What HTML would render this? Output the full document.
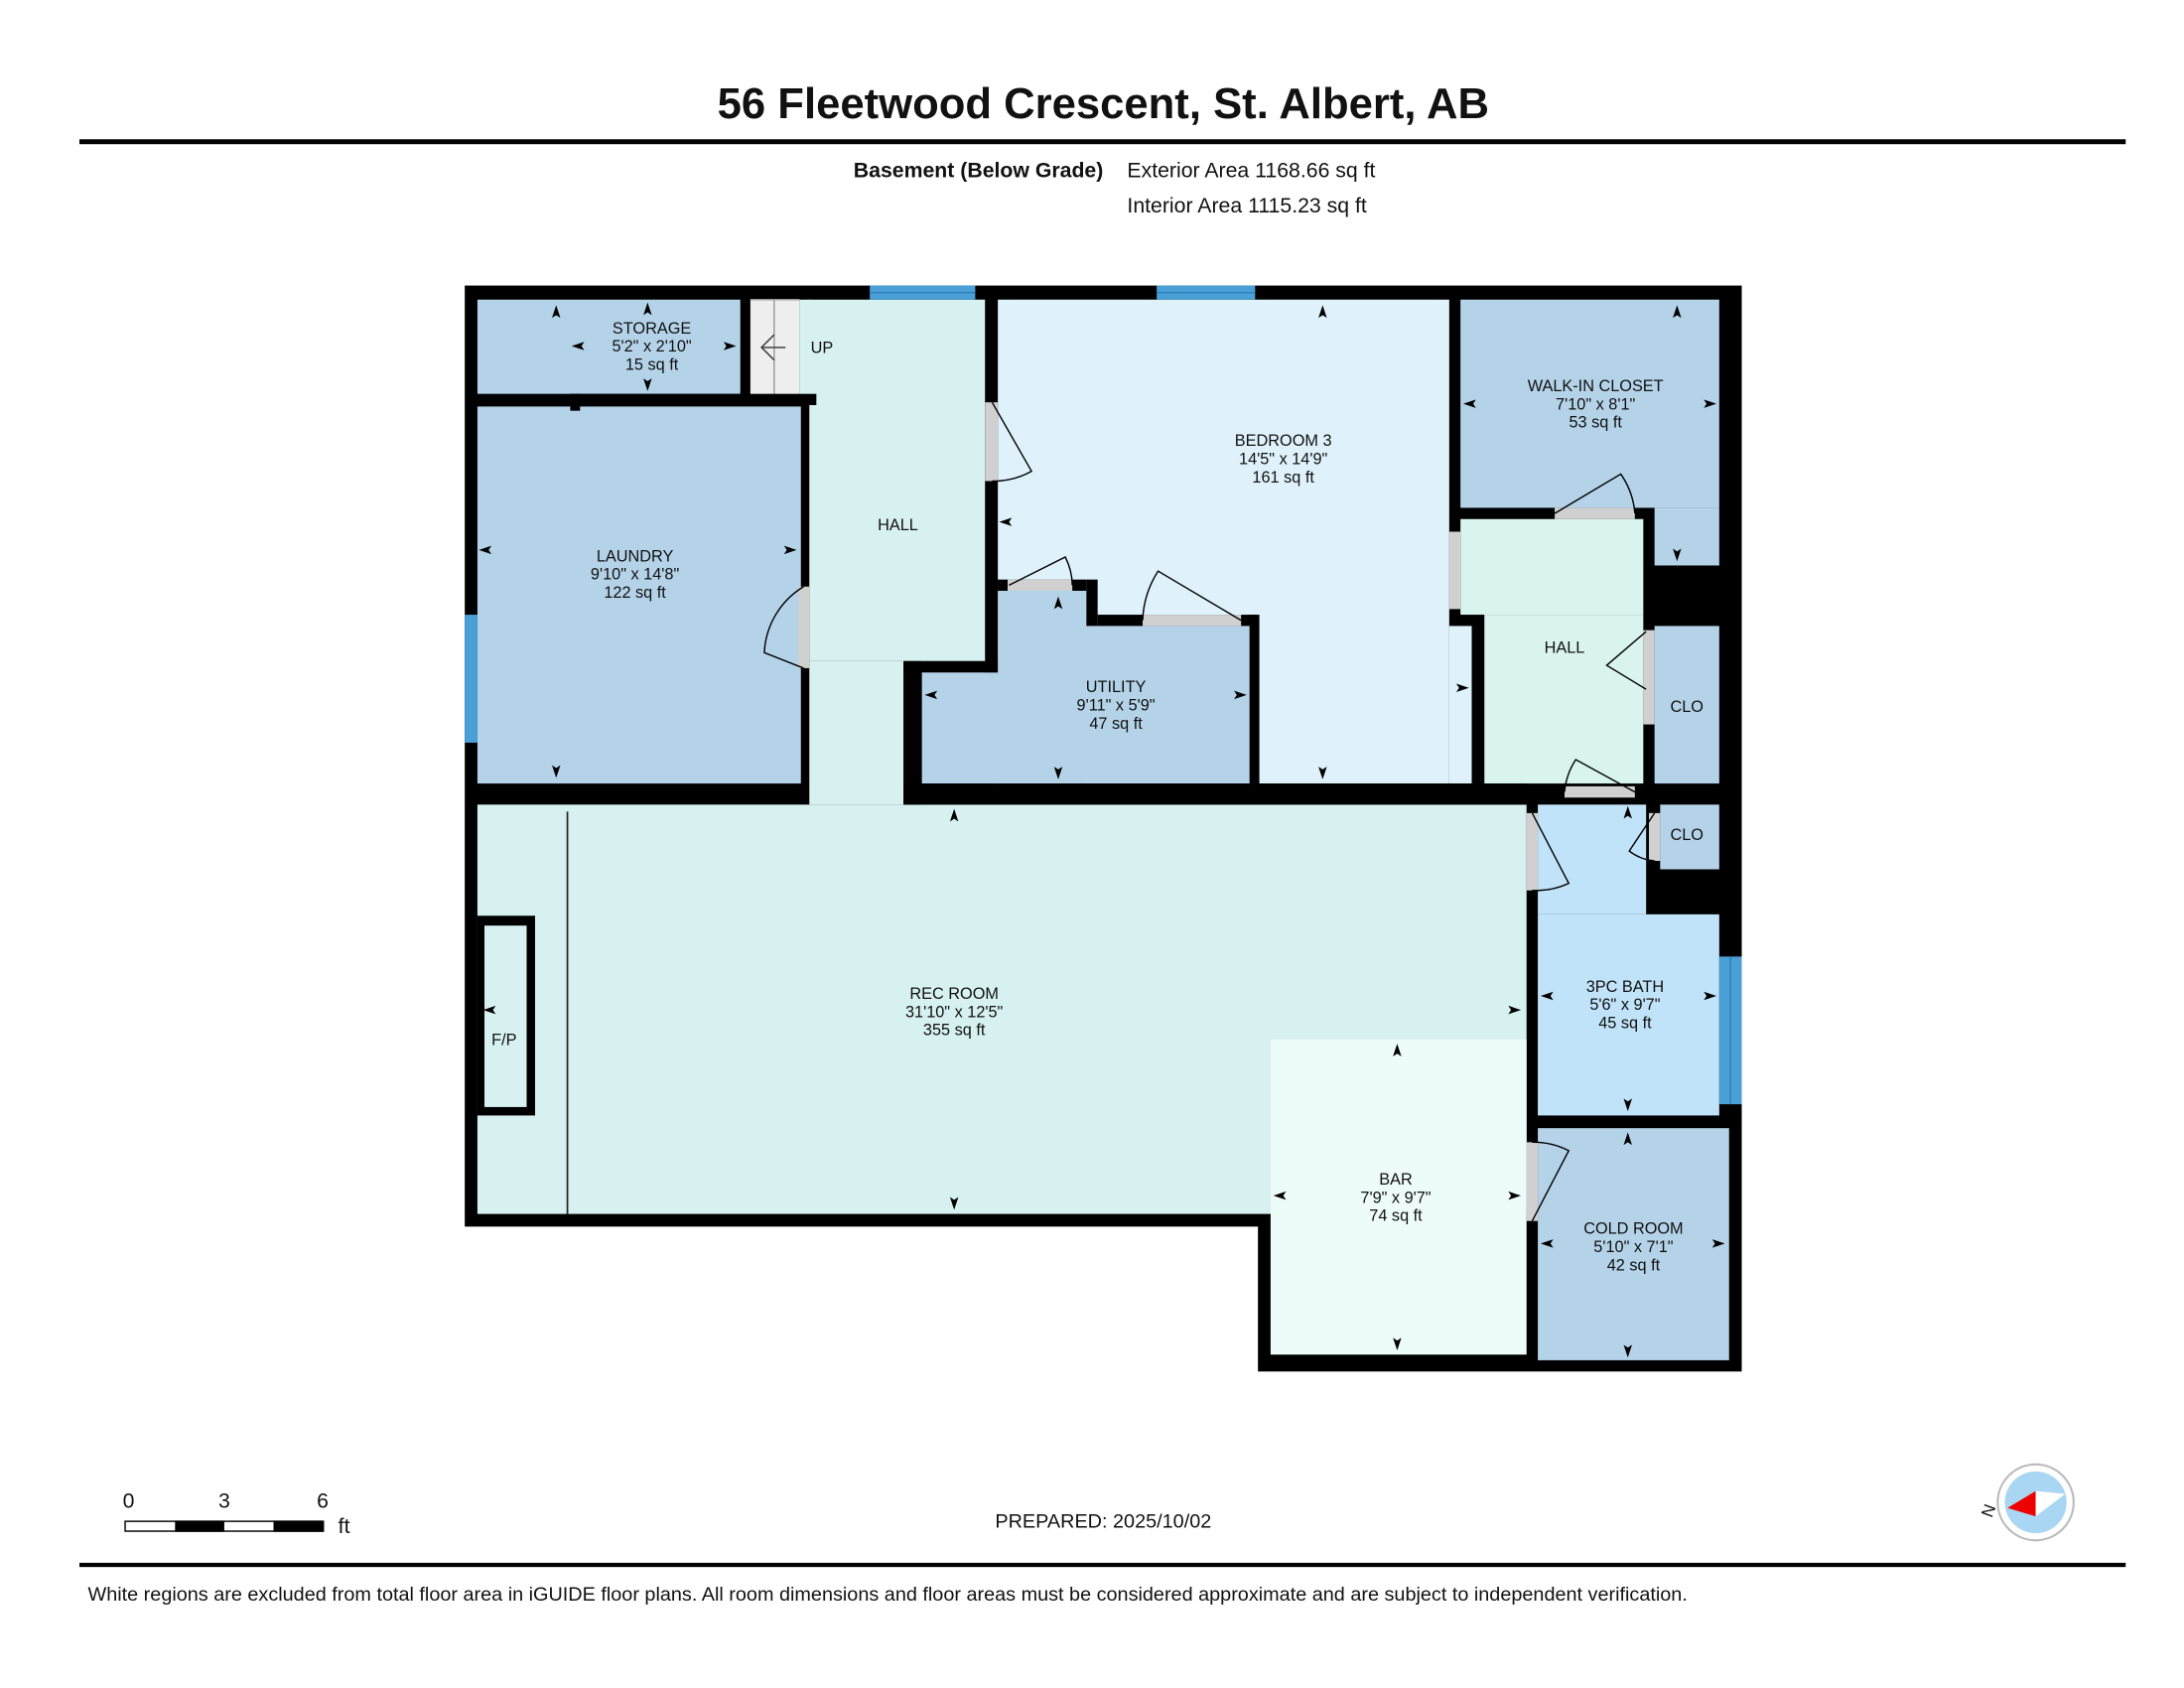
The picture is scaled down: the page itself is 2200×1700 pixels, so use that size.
<!DOCTYPE html>
<html><head><meta charset="utf-8"><style>
html,body{margin:0;padding:0;background:#fff;}
svg{display:block;}
text{font-family:"Liberation Sans",Arial,sans-serif;fill:#111;}
.l{font-size:11.5px;text-anchor:middle;}
</style></head><body>
<svg width="2200" height="1700" viewBox="0 0 1552 1200" xmlns="http://www.w3.org/2000/svg">
<rect width="1552" height="1200" fill="#fff"/>
<text x="784" y="84" font-size="30.8" font-weight="bold" text-anchor="middle">56 Fleetwood Crescent, St. Albert, AB</text>
<rect x="56" y="99" width="1455" height="3.5" fill="#000"/>
<text x="784" y="126" font-size="15" font-weight="bold" text-anchor="end">Basement (Below Grade)</text>
<text x="801" y="126" font-size="15">Exterior Area 1168.66 sq ft</text>
<text x="801" y="151" font-size="15">Interior Area 1115.23 sq ft</text>

<!-- outer black base -->
<rect x="330" y="203" width="908" height="669" fill="#000"/>
<rect x="894" y="860" width="344" height="115" fill="#000"/>

<!-- rooms -->
<rect x="339" y="213" width="187" height="67" fill="#b4d3e8"/>
<rect x="533" y="213" width="35" height="69" fill="#eee"/>
<rect x="568" y="213" width="8" height="69" fill="#d7f0f0"/>
<line x1="550" y1="213" x2="550" y2="282" stroke="#999" stroke-width="1"/>
<line x1="533" y1="213" x2="568" y2="213" stroke="#999"/>
<path d="M542 247 L558 247 M550 238 L541 247 L550 256" stroke="#333" fill="none" stroke-width="1"/>
<rect x="339" y="289" width="230" height="268" fill="#b4d3e8"/>
<rect x="575" y="213" width="125" height="257" fill="#d7f0f0"/>
<rect x="575" y="470" width="67" height="102" fill="#d7f0f0"/>
<rect x="709" y="213" width="321" height="344" fill="#dff2fb"/>
<rect x="1030" y="445" width="16" height="112" fill="#dff2fb"/>
<rect x="709" y="420" width="63" height="137" fill="#b4d3e8"/>
<rect x="655" y="478" width="54" height="79" fill="#b4d3e8"/>
<rect x="772" y="445" width="116" height="112" fill="#b4d3e8"/>
<rect x="709" y="412" width="63" height="8" fill="#000"/>
<rect x="772" y="412" width="8" height="33" fill="#000"/>
<rect x="780" y="437" width="113" height="8" fill="#000"/>
<rect x="888" y="437" width="7" height="120" fill="#000"/>
<rect x="1038" y="213" width="184" height="148" fill="#b4d3e8"/>
<rect x="1176" y="361" width="46" height="41" fill="#b4d3e8"/>
<rect x="1038" y="369" width="130" height="68" fill="#d9f3ee"/>
<rect x="1055" y="437" width="113" height="120" fill="#d9f3ee"/>
<rect x="1176" y="445" width="46" height="112" fill="#b4d3e8"/>
<rect x="1180" y="572" width="42" height="46" fill="#b4d3e8"/>
<rect x="1093" y="572" width="77" height="78" fill="#c1e3f9"/>
<rect x="1093" y="650" width="129" height="143" fill="#c1e3f9"/>
<rect x="1093" y="802" width="136" height="165" fill="#b4d3e8"/>
<rect x="339" y="572" width="746" height="291" fill="#d7f0f0"/>
<rect x="903" y="739" width="182" height="224" fill="#eefcf9"/>
<line x1="403" y1="577" x2="403" y2="863" stroke="#222" stroke-width="1.2"/>
<rect x="339" y="651" width="41" height="142" fill="#000"/>
<rect x="344" y="658" width="30" height="129" fill="#d7f0f0"/>
<!-- wall nubs -->
<rect x="405" y="280" width="175" height="8" fill="#000"/>
<rect x="405" y="280" width="7" height="12" fill="#000"/>
<rect x="526" y="213" width="7" height="69" fill="#000"/>
<rect x="700" y="213" width="9" height="265" fill="#000"/>
<rect x="642" y="470" width="67" height="8" fill="#000"/>
<rect x="642" y="470" width="13" height="102" fill="#000"/>
<rect x="642" y="557" width="443" height="15" fill="#000"/>

<!-- windows -->
<rect x="618" y="203" width="75" height="10" fill="#4a9fd6"/>
<line x1="618" y1="208" x2="693" y2="208" stroke="#2a7fb6" stroke-width="1"/>
<rect x="822" y="203" width="70" height="10" fill="#4a9fd6"/>
<line x1="822" y1="208" x2="892" y2="208" stroke="#2a7fb6" stroke-width="1"/>
<rect x="330" y="437" width="9" height="91" fill="#4a9fd6"/>
<rect x="1222" y="680" width="16" height="105" fill="#4a9fd6"/>
<line x1="1230" y1="680" x2="1230" y2="785" stroke="#2a7fb6" stroke-width="1"/>

<!-- door jambs -->
<g fill="#d0d0d0">
<rect x="567" y="417" width="8" height="58"/>
<rect x="700" y="286" width="9" height="56"/>
<rect x="716" y="412" width="46" height="8"/>
<rect x="812" y="437" width="70" height="8"/>
<rect x="1030" y="378" width="8" height="55"/>
<rect x="1105" y="361" width="57" height="8"/>
<rect x="1168" y="448" width="8" height="67"/>
<rect x="1112" y="559" width="50" height="8"/>
<rect x="1085" y="578" width="8" height="55"/>
<rect x="1172" y="578" width="8" height="34"/>
<rect x="1085" y="812" width="8" height="56"/>
</g>
<!-- door swings -->
<g fill="none" stroke="#000" stroke-width="1">
<path d="M571 475 L543 464 A58 58 0 0 1 571 417"/>
<path d="M705 286 L733 335 A56 56 0 0 1 705 342"/>
<path d="M717 416 L757 396 A46 46 0 0 1 762 416"/>
<path d="M882 441 L823 406 A70 70 0 0 0 812 441"/>
<path d="M1105 365 L1152 337 A57 57 0 0 1 1162 365"/>
<path d="M1170 449 L1142 473 L1170 490"/>
<path d="M1162 563 L1120 540 A50 50 0 0 0 1112 563"/>
<path d="M1089 578 L1115 628 A55 55 0 0 1 1089 633"/>
<path d="M1176 578 L1158 605 A34 34 0 0 0 1176 612"/>
<path d="M1089 868 L1115 818 A56 56 0 0 0 1089 812"/>
</g>

<!-- arrows -->
<defs>
<path id="au" d="M0 -5 L3 4 L0 2 L-3 4 Z" fill="#000"/>
</defs>
<g>
<use href="#au" x="460" y="220"/><use href="#au" transform="translate(460 273) rotate(180)"/>
<use href="#au" transform="translate(411 246) rotate(-90)"/><use href="#au" transform="translate(518 246) rotate(90)"/>
<use href="#au" x="395" y="222"/><use href="#au" transform="translate(345 391) rotate(-90)"/>
<use href="#au" transform="translate(561 391) rotate(90)"/><use href="#au" transform="translate(395 548) rotate(180)"/>
<use href="#au" x="940" y="222"/><use href="#au" transform="translate(715 371) rotate(-90)"/>
<use href="#au" transform="translate(1039 489) rotate(90)"/><use href="#au" transform="translate(940 549) rotate(180)"/>
<use href="#au" x="752" y="429"/><use href="#au" transform="translate(662 494) rotate(-90)"/>
<use href="#au" transform="translate(881 494) rotate(90)"/><use href="#au" transform="translate(752 549) rotate(180)"/>
<use href="#au" x="1192" y="222"/><use href="#au" transform="translate(1045 287) rotate(-90)"/>
<use href="#au" transform="translate(1215 287) rotate(90)"/><use href="#au" transform="translate(1192 394) rotate(180)"/>
<use href="#au" x="1157" y="578"/><use href="#au" transform="translate(1100 708) rotate(-90)"/>
<use href="#au" transform="translate(1215 708) rotate(90)"/><use href="#au" transform="translate(1157 785) rotate(180)"/>
<use href="#au" x="678" y="580"/><use href="#au" transform="translate(348 718) rotate(-90)"/>
<use href="#au" transform="translate(1076 718) rotate(90)"/><use href="#au" transform="translate(678 855) rotate(180)"/>
<use href="#au" x="993" y="747"/><use href="#au" transform="translate(910 850) rotate(-90)"/>
<use href="#au" transform="translate(1076 850) rotate(90)"/><use href="#au" transform="translate(993 955) rotate(180)"/>
<use href="#au" x="1157" y="810"/><use href="#au" transform="translate(1100 884) rotate(-90)"/>
<use href="#au" transform="translate(1221 884) rotate(90)"/><use href="#au" transform="translate(1157 960) rotate(180)"/>
</g>

<!-- labels -->
<text class="l" x="463" y="237">STORAGE</text><text class="l" x="463" y="250">5'2" x 2'10"</text><text class="l" x="463" y="263">15 sq ft</text>
<text x="576" y="251" font-size="11.5">UP</text>
<text class="l" x="451" y="399">LAUNDRY</text><text class="l" x="451" y="412">9'10" x 14'8"</text><text class="l" x="451" y="425">122 sq ft</text>
<text class="l" x="638" y="377">HALL</text>
<text class="l" x="912" y="317">BEDROOM 3</text><text class="l" x="912" y="330">14'5" x 14'9"</text><text class="l" x="912" y="343">161 sq ft</text>
<text class="l" x="793" y="492">UTILITY</text><text class="l" x="793" y="505">9'11" x 5'9"</text><text class="l" x="793" y="518">47 sq ft</text>
<text class="l" x="1134" y="278">WALK-IN CLOSET</text><text class="l" x="1134" y="291">7'10" x 8'1"</text><text class="l" x="1134" y="304">53 sq ft</text>
<text class="l" x="1112" y="464">HALL</text>
<text class="l" x="1199" y="506">CLO</text>
<text class="l" x="1199" y="597">CLO</text>
<text class="l" x="1155" y="705">3PC BATH</text><text class="l" x="1155" y="718">5'6" x 9'7"</text><text class="l" x="1155" y="731">45 sq ft</text>
<text class="l" x="678" y="710">REC ROOM</text><text class="l" x="678" y="723">31'10" x 12'5"</text><text class="l" x="678" y="736">355 sq ft</text>
<text class="l" x="358" y="743">F/P</text>
<text class="l" x="992" y="842">BAR</text><text class="l" x="992" y="855">7'9" x 9'7"</text><text class="l" x="992" y="868">74 sq ft</text>
<text class="l" x="1161" y="877">COLD ROOM</text><text class="l" x="1161" y="890">5'10" x 7'1"</text><text class="l" x="1161" y="903">42 sq ft</text>

<!-- scale bar -->
<text x="91" y="1072" font-size="15" text-anchor="middle">0</text>
<text x="159" y="1072" font-size="15" text-anchor="middle">3</text>
<text x="229" y="1072" font-size="15" text-anchor="middle">6</text>
<rect x="88.5" y="1081.5" width="141" height="7" fill="#fff" stroke="#000" stroke-width="1"/>
<rect x="124" y="1081" width="35" height="8" fill="#000"/>
<rect x="194" y="1081" width="35" height="8" fill="#000"/>
<text x="240" y="1090" font-size="15">ft</text>
<text x="784" y="1086" font-size="14" text-anchor="middle">PREPARED: 2025/10/02</text>
<!-- compass -->
<circle cx="1447" cy="1068" r="27" fill="#fff" stroke="#bbb" stroke-width="1.5"/>
<circle cx="1447" cy="1068" r="22" fill="#a9d6f2"/>
<path d="M1427 1072 L1447 1060 L1447 1078 Z" fill="#e00"/>
<path d="M1447 1060 L1468 1062 L1447 1078 Z" fill="#fff"/>
<text x="1412" y="1082" font-size="12" transform="rotate(-70 1412 1078)">N</text>

<rect x="56" y="1111" width="1455" height="3" fill="#000"/>
<text x="62" y="1138" font-size="14">White regions are excluded from total floor area in iGUIDE floor plans. All room dimensions and floor areas must be considered approximate and are subject to independent verification.</text>
</svg>
</body></html>
